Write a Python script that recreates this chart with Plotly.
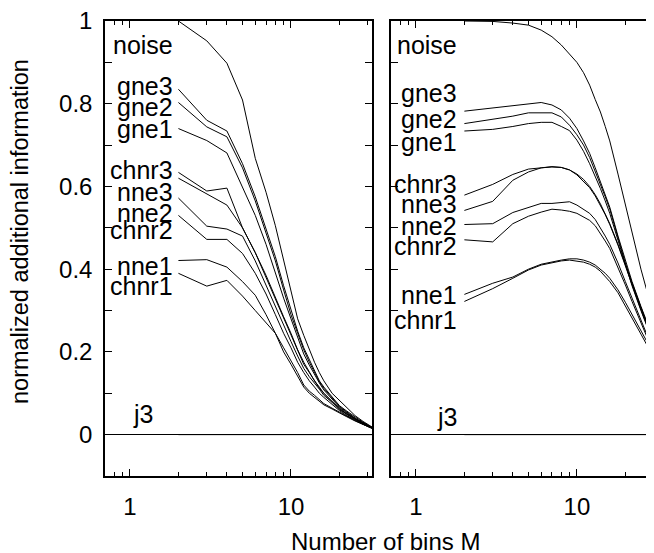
import plotly.graph_objects as go
import math

# ---- data ----
M_left = [2, 3, 4, 5, 6, 7, 8, 9, 10, 11, 12, 13, 14, 15, 16, 18, 20, 22, 25, 28, 32]
M_right = [2, 3, 4, 5, 6, 7, 8, 9, 10, 11, 12, 13, 14, 15, 16, 18, 20, 22, 25, 28, 30]

series_names = ["noise", "gne3", "gne2", "gne1", "chnr3", "nne3", "nne2", "chnr2", "nne1", "chnr1", "j3"]

left_noise = [1.0, 0.952, 0.898, 0.809, 0.668, 0.586, 0.505, 0.42, 0.345, 0.28, 0.24, 0.205, 0.175, 0.15, 0.13, 0.1, 0.082, 0.066, 0.046, 0.032, 0.018]
left_gne3 = [0.835, 0.760, 0.734, 0.655, 0.575, 0.50, 0.43, 0.36, 0.30, 0.25, 0.21, 0.18, 0.155, 0.13, 0.115, 0.09, 0.07, 0.058, 0.042, 0.03, 0.017]
left_gne2 = [0.803, 0.744, 0.720, 0.645, 0.565, 0.49, 0.42, 0.35, 0.29, 0.245, 0.205, 0.175, 0.15, 0.128, 0.112, 0.088, 0.068, 0.056, 0.04, 0.029, 0.017]
left_gne1 = [0.740, 0.711, 0.681, 0.60, 0.53, 0.46, 0.39, 0.33, 0.28, 0.235, 0.195, 0.168, 0.145, 0.125, 0.108, 0.085, 0.066, 0.054, 0.039, 0.028, 0.016]
left_chnr3 = [0.634, 0.589, 0.596, 0.50, 0.44, 0.38, 0.325, 0.28, 0.24, 0.2, 0.17, 0.15, 0.13, 0.112, 0.1, 0.08, 0.062, 0.052, 0.038, 0.027, 0.016]
left_nne3 = [0.620, 0.583, 0.555, 0.50, 0.44, 0.385, 0.33, 0.285, 0.245, 0.205, 0.175, 0.15, 0.13, 0.115, 0.1, 0.08, 0.063, 0.05, 0.037, 0.027, 0.016]
left_nne2 = [0.572, 0.504, 0.497, 0.48, 0.42, 0.36, 0.31, 0.265, 0.225, 0.19, 0.16, 0.14, 0.125, 0.11, 0.095, 0.078, 0.06, 0.05, 0.037, 0.026, 0.016]
left_chnr2 = [0.530, 0.472, 0.472, 0.438, 0.39, 0.34, 0.29, 0.245, 0.21, 0.175, 0.15, 0.13, 0.115, 0.1, 0.09, 0.072, 0.058, 0.047, 0.035, 0.025, 0.015]
left_nne1 = [0.421, 0.423, 0.405, 0.37, 0.337, 0.29, 0.245, 0.2, 0.17, 0.14, 0.115, 0.1, 0.09, 0.08, 0.072, 0.062, 0.052, 0.044, 0.033, 0.024, 0.015]
left_chnr1 = [0.390, 0.359, 0.373, 0.335, 0.30, 0.27, 0.245, 0.21, 0.18, 0.15, 0.12, 0.105, 0.095, 0.085, 0.075, 0.064, 0.054, 0.045, 0.034, 0.025, 0.015]
left_j3 = [0.0] * 21

right_noise = [1.0, 0.999, 0.995, 0.99, 0.978, 0.962, 0.942, 0.92, 0.90, 0.875, 0.845, 0.81, 0.78, 0.745, 0.71, 0.63, 0.555, 0.49, 0.40, 0.33, 0.30]
right_gne3 = [0.782, 0.790, 0.796, 0.800, 0.803, 0.797, 0.785, 0.765, 0.74, 0.71, 0.68, 0.645, 0.61, 0.58, 0.55, 0.48, 0.42, 0.37, 0.31, 0.26, 0.235]
right_gne2 = [0.752, 0.763, 0.770, 0.778, 0.778, 0.778, 0.768, 0.748, 0.725, 0.70, 0.67, 0.637, 0.605, 0.575, 0.545, 0.475, 0.415, 0.365, 0.305, 0.255, 0.23]
right_gne1 = [0.734, 0.738, 0.745, 0.752, 0.755, 0.755, 0.745, 0.735, 0.712, 0.685, 0.655, 0.625, 0.595, 0.565, 0.535, 0.47, 0.41, 0.36, 0.30, 0.25, 0.225]
right_chnr3 = [0.579, 0.605, 0.629, 0.642, 0.645, 0.647, 0.646, 0.640, 0.630, 0.617, 0.600, 0.58, 0.558, 0.535, 0.51, 0.46, 0.41, 0.365, 0.305, 0.255, 0.23]
right_nne3 = [0.542, 0.564, 0.615, 0.635, 0.645, 0.648, 0.646, 0.640, 0.628, 0.613, 0.597, 0.577, 0.555, 0.532, 0.508, 0.458, 0.408, 0.362, 0.302, 0.252, 0.227]
right_nne2 = [0.508, 0.510, 0.537, 0.55, 0.559, 0.559, 0.562, 0.563, 0.555, 0.545, 0.535, 0.52, 0.5, 0.48, 0.46, 0.415, 0.37, 0.33, 0.275, 0.23, 0.21]
right_chnr2 = [0.471, 0.466, 0.510, 0.528, 0.538, 0.545, 0.543, 0.54, 0.535, 0.527, 0.518, 0.505, 0.487, 0.468, 0.45, 0.405, 0.362, 0.322, 0.268, 0.225, 0.205]
right_nne1 = [0.339, 0.366, 0.381, 0.400, 0.412, 0.418, 0.422, 0.425, 0.425, 0.422, 0.417, 0.41, 0.40, 0.39, 0.378, 0.35, 0.32, 0.29, 0.25, 0.215, 0.195]
right_chnr1 = [0.322, 0.353, 0.378, 0.398, 0.410, 0.416, 0.420, 0.422, 0.420, 0.417, 0.412, 0.405, 0.395, 0.383, 0.37, 0.343, 0.312, 0.283, 0.243, 0.208, 0.188]
right_j3 = [0.0] * 21

left_series = [left_noise, left_gne3, left_gne2, left_gne1, left_chnr3, left_nne3, left_nne2, left_chnr2, left_nne1, left_chnr1, left_j3]
right_series = [right_noise, right_gne3, right_gne2, right_gne1, right_chnr3, right_nne3, right_nne2, right_chnr2, right_nne1, right_chnr1, right_j3]

# label vertical positions (data units)
left_label_y = [0.942, 0.844, 0.792, 0.740, 0.639, 0.586, 0.537, 0.494, 0.407, 0.359, 0.05]
right_label_y = [0.942, 0.825, 0.764, 0.708, 0.607, 0.557, 0.504, 0.456, 0.337, 0.278, 0.042]

x_tick_vals = [1, 10]
x_tick_text = ["1", "10"]
x_minor_vals = [0.7, 0.8, 0.9, 2, 3, 4, 5, 6, 7, 8, 9, 20, 30]
y_tick_vals = [0, 0.2, 0.4, 0.6, 0.8, 1]
y_tick_text = ["0", "0.2", "0.4", "0.6", "0.8", "1"]
y_minor_vals = [-0.1, 0.1, 0.3, 0.5, 0.7, 0.9]

FONT = "Liberation Sans, Arial, Helvetica, sans-serif"
OFF = 8  # page body margin
W, H = 654 - OFF, 553 - OFF

def fx(px):
    return (px - OFF) / W

def fy(py):
    return (H - (py - OFF)) / H

fig = go.Figure()
for ys in left_series:
    fig.add_trace(go.Scatter(x=M_left, y=ys, mode="lines", xaxis="x", yaxis="y",
                             line=dict(color="black", width=1), showlegend=False))
for ys in right_series:
    fig.add_trace(go.Scatter(x=M_right, y=ys, mode="lines", xaxis="x2", yaxis="y2",
                             line=dict(color="black", width=1), showlegend=False))

LBL = 25
ann = []
for name, yv in zip(series_names, left_label_y):
    xr = 0.155 if name == "j3" else 0.2795
    ann.append(dict(x=xr, y=yv, xref="x", yref="y", text=name, showarrow=False,
                    xanchor="right", yanchor="middle", font=dict(size=LBL, color="black", family=FONT)))
for name, yv in zip(series_names, right_label_y):
    ann.append(dict(x=0.267, y=yv, xref="x2", yref="y2", text=name, showarrow=False,
                    xanchor="right", yanchor="middle", font=dict(size=LBL, color="black", family=FONT)))
ann.append(dict(x=fx(20), y=fy(232), xref="paper", yref="paper", text="normalized additional information",
                textangle=-90, showarrow=False, xanchor="center", yanchor="middle",
                font=dict(size=23.5, color="black", family=FONT)))
ann.append(dict(x=fx(385), y=fy(541), xref="paper", yref="paper", text="Number of bins M",
                showarrow=False, xanchor="center", yanchor="middle",
                font=dict(size=24, color="black", family=FONT)))

ydom = [fy(476), fy(21)]

def xaxis_cfg(dom, rng):
    return dict(domain=dom, type="log", range=rng, showgrid=False, zeroline=False, automargin=False,
                showline=True, linecolor="black", linewidth=1.5, mirror="ticks",
                ticks="inside", ticklen=7, tickcolor="black", tickwidth=1,
                tickvals=x_tick_vals, ticktext=x_tick_text, ticklabeloverflow="allow",
                tickfont=dict(size=24, color="black", family=FONT), ticklabelstandoff=8,
                minor=dict(tickvals=x_minor_vals, ticks="inside", ticklen=4, tickcolor="black", tickwidth=1, showgrid=False))

def yaxis_cfg(anchor, labels):
    d = dict(domain=ydom, anchor=anchor, range=[-0.1, 1.0], showgrid=False, automargin=False,
             zeroline=True, zerolinecolor="black", zerolinewidth=1,
             showline=True, linecolor="black", linewidth=1.5, mirror="ticks",
             ticks="inside", ticklen=7, tickcolor="black", tickwidth=1,
             tickvals=y_tick_vals, ticktext=y_tick_text if labels else [""] * 6,
             showticklabels=labels, ticklabeloverflow="allow",
             tickfont=dict(size=24, color="black", family=FONT),
             minor=dict(tickvals=y_minor_vals, ticks="inside", ticklen=7, tickcolor="black", tickwidth=1, showgrid=False))
    if labels:
        d["ticklabelstandoff"] = 6
    return d

fig.update_layout(
    width=W, height=H, margin=dict(l=0, r=0, t=0, b=0),
    paper_bgcolor="white", plot_bgcolor="white",
    xaxis=dict(anchor="y", **xaxis_cfg([fx(105), fx(372)], [math.log10(0.7), 1.503])),
    xaxis2=dict(anchor="y2", **xaxis_cfg([fx(391), 1.0], [math.log10(0.7), 1.479])),
    yaxis=yaxis_cfg("x", True),
    yaxis2=yaxis_cfg("x2", False),
    annotations=ann,
    font=dict(family=FONT, color="black"),
)

fig.write_html("out.html")
